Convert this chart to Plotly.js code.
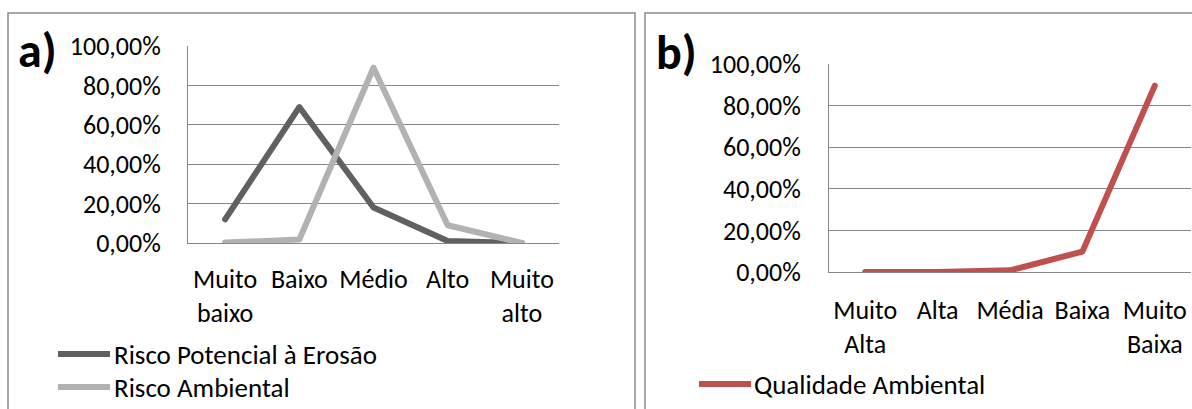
<!DOCTYPE html>
<html>
<head>
<meta charset="utf-8">
<script src="https://cdn.plot.ly/plotly-3.0.1.min.js"></script>
<style>
  html, body { margin: 0; padding: 0; background: #fff; }
  #chart { width: 1192px; height: 409px; }
  .js-line { stroke-linecap: round; stroke-linejoin: round; }
</style>
</head>
<body>
<div id="chart"></div>
<script>
// ---- Data ----
const categoriesA = ['Muito baixo', 'Baixo', 'Médio', 'Alto', 'Muito alto'];
const tickLabelsA = ['Muito<br>baixo', 'Baixo', 'Médio', 'Alto', 'Muito<br>alto'];
const riscoPotencialErosao = [0.12, 0.69, 0.18, 0.01, 0.00];
const riscoAmbiental = [0.002, 0.018, 0.89, 0.09, 0.00];
const seriesNamesA = ['Risco Potencial à Erosão', 'Risco Ambiental'];

const categoriesB = ['Muito Alta', 'Alta', 'Média', 'Baixa', 'Muito Baixa'];
const tickLabelsB = ['Muito<br>Alta', 'Alta', 'Média', 'Baixa', 'Muito<br>Baixa'];
const qualidadeAmbiental = [0.00, 0.00, 0.008, 0.098, 0.896];
const seriesNameB = 'Qualidade Ambiental';

const yTickVals = [0, 0.2, 0.4, 0.6, 0.8, 1.0];
const panelLabels = ['a)', 'b)'];

// ---- Styles ----
const W = 1192, H = 409;
const colors = ['#606060', '#b2b2b2', '#c0504d'];
const FONT = 'Carlito, Calibri, Lato, sans-serif';
const FS = 26;
const gridColor = '#888888';
const px = x => x / W;
const py = y => 1 - y / H;

const traces = [
  { x: categoriesA, y: riscoPotencialErosao, name: seriesNamesA[0], type: 'scatter', mode: 'lines',
    line: { color: colors[0], width: 6 }, xaxis: 'x', yaxis: 'y', showlegend: false },
  { x: categoriesA, y: riscoAmbiental, name: seriesNamesA[1], type: 'scatter', mode: 'lines',
    line: { color: colors[1], width: 6 }, xaxis: 'x', yaxis: 'y', showlegend: false },
  { x: categoriesB, y: qualidadeAmbiental, name: seriesNameB, type: 'scatter', mode: 'lines',
    line: { color: colors[2], width: 6 }, xaxis: 'x2', yaxis: 'y2', showlegend: false }
];

const xCommon = {
  type: 'category', range: [-0.5, 4.5], showgrid: false, zeroline: false,
  showline: true, linecolor: gridColor, linewidth: 1, ticks: '',
  tickfont: { family: FONT, size: FS, color: '#000' }, fixedrange: true
};
const yCommon = {
  range: [0, 1.0001], tickvals: yTickVals, tickformat: '.2%',
  showgrid: true, gridcolor: gridColor, gridwidth: 1, zeroline: false,
  showline: true, linecolor: gridColor, linewidth: 1, ticks: '',
  tickfont: { family: FONT, size: FS, color: '#000' }, fixedrange: true
};

const layout = {
  width: W, height: H,
  margin: { l: 0, r: 0, t: 0, b: 0 },
  paper_bgcolor: '#fff', plot_bgcolor: 'rgba(0,0,0,0)',
  separators: ',.',
  showlegend: false,
  font: { family: FONT, color: '#000' },
  xaxis: Object.assign({}, xCommon, {
    domain: [px(188), px(559)], anchor: 'y',
    tickvals: categoriesA, ticktext: tickLabelsA, ticklabelstandoff: 13
  }),
  yaxis: Object.assign({}, yCommon, {
    domain: [py(243), py(46)], anchor: 'x', ticklabelstandoff: 21
  }),
  xaxis2: Object.assign({}, xCommon, {
    domain: [px(829), px(1191)], anchor: 'y2',
    tickvals: categoriesB, ticktext: tickLabelsB, ticklabelstandoff: 15
  }),
  yaxis2: Object.assign({}, yCommon, {
    domain: [py(272), py(64)], anchor: 'x2', ticklabelstandoff: 22
  }),
  shapes: [
    // panel frames
    { type: 'rect', xref: 'paper', yref: 'paper', x0: px(8), x1: px(635), y0: py(430), y1: py(13),
      line: { color: '#8c8c8c', width: 1.5 }, layer: 'below' },
    { type: 'rect', xref: 'paper', yref: 'paper', x0: px(645), x1: px(1210), y0: py(430), y1: py(13),
      line: { color: '#8c8c8c', width: 1.5 }, layer: 'below' },
    // legend samples
    { type: 'line', xref: 'paper', yref: 'paper', x0: px(58), x1: px(110), y0: py(354), y1: py(354),
      line: { color: colors[0], width: 6 } },
    { type: 'line', xref: 'paper', yref: 'paper', x0: px(58), x1: px(110), y0: py(387), y1: py(387),
      line: { color: colors[1], width: 6 } },
    { type: 'line', xref: 'paper', yref: 'paper', x0: px(699), x1: px(751), y0: py(384), y1: py(384),
      line: { color: colors[2], width: 6 } }
  ],
  annotations: [
    { text: '<b>' + panelLabels[0] + '</b>', xref: 'paper', yref: 'paper', x: px(37), y: py(50),
      xanchor: 'center', yanchor: 'middle', showarrow: false, font: { family: FONT, size: 48, color: '#000' } },
    { text: '<b>' + panelLabels[1] + '</b>', xref: 'paper', yref: 'paper', x: px(676), y: py(53),
      xanchor: 'center', yanchor: 'middle', showarrow: false, font: { family: FONT, size: 48, color: '#000' } },
    { text: seriesNamesA[0], xref: 'paper', yref: 'paper', x: px(112), y: py(354),
      xanchor: 'left', yanchor: 'middle', showarrow: false, font: { family: FONT, size: 27, color: '#000' } },
    { text: seriesNamesA[1], xref: 'paper', yref: 'paper', x: px(112), y: py(387),
      xanchor: 'left', yanchor: 'middle', showarrow: false, font: { family: FONT, size: 27, color: '#000' } },
    { text: seriesNameB, xref: 'paper', yref: 'paper', x: px(752), y: py(384),
      xanchor: 'left', yanchor: 'middle', showarrow: false, font: { family: FONT, size: 27, color: '#000' } }
  ]
};

Plotly.newPlot('chart', traces, layout, { staticPlot: true, displayModeBar: false });
</script>
</body>
</html>
